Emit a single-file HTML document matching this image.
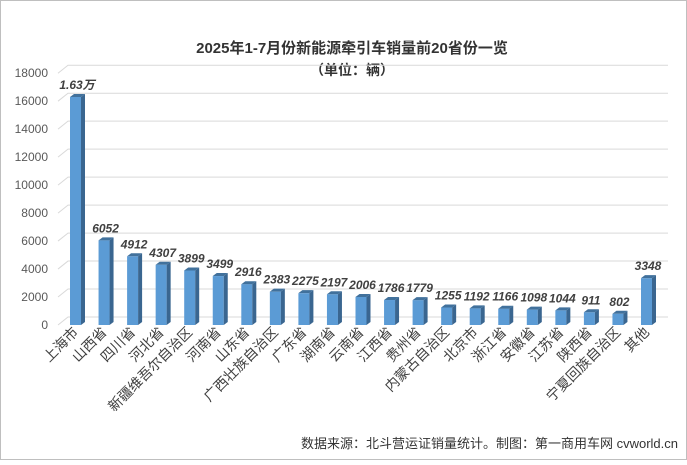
<!DOCTYPE html>
<html><head><meta charset="utf-8"><style>
html,body{margin:0;padding:0;background:#fff}
svg text{font-family:"Liberation Sans","Noto Sans CJK SC",sans-serif}
</style></head><body>
<svg width="687" height="460" xmlns="http://www.w3.org/2000/svg">
<rect x="0.5" y="0.5" width="686" height="459" fill="#fff" stroke="#bfbfbf"/>
<text x="352" y="53" text-anchor="middle" font-size="15" font-weight="bold" fill="#333">2025年1-7月份新能源牵引车销量前20省份一览</text>
<text x="352" y="75" text-anchor="middle" font-size="14" font-weight="bold" fill="#333">（单位：辆）</text>
<g id="grid"></g><g id="bars"></g><g id="labels"></g>
<text x="678" y="448" text-anchor="end" font-size="13" fill="#333">数据来源：北斗营运证销量统计。制图：第一商用车网 cvworld.cn</text>
</svg>
<script>
const categories=["上海市","山西省","四川省","河北省","新疆维吾尔自治区","河南省","山东省","广西壮族自治区","广东省","湖南省","云南省","江西省","贵州省","内蒙古自治区","北京市","浙江省","安徽省","江苏省","陕西省","宁夏回族自治区","其他"];
const values=[16300,6052,4912,4307,3899,3499,2916,2383,2275,2197,2006,1786,1779,1255,1192,1166,1098,1044,911,802,3348];
const valueLabels=["1.63万","6052","4912","4307","3899","3499","2916","2383","2275","2197","2006","1786","1779","1255","1192","1166","1098","1044","911","802","3348"];
const ticks=[0,2000,4000,6000,8000,10000,12000,14000,16000,18000];
const NS="http://www.w3.org/2000/svg";
const y0=325,k=228/16300,x0=70,step=28.55,bw=11,d=4;
const Y=v=>y0-v*k, X=i=>x0+i*step;
function mk(t,a,p){const e=document.createElementNS(NS,t);for(const q in a)e.setAttribute(q,a[q]);p.appendChild(e);return e;}
const g=document.getElementById('grid'),b=document.getElementById('bars'),l=document.getElementById('labels');
ticks.forEach(t=>{const y=Y(t);
const ln=mk('polyline',{points:`58,${y} 68,${y-8} 668,${y-8}`,fill:'none',stroke:'#d9d9d9'},g);


const tx=mk('text',{x:48,y:y+4,'text-anchor':'end','font-size':12,fill:'#595959'},g);tx.textContent=t;

});
values.forEach((v,i)=>{const x=X(i),y=Y(v),h=y0-y;
const grp=mk('g',{},b);


mk('rect',{x:x,y:y,width:bw,height:h,fill:'#5b9bd5'},grp);
mk('polygon',{points:`${x+bw},${y} ${x+bw+d},${y-3} ${x+bw+d},${y0-3} ${x+bw},${y0}`,fill:'#3a6690'},grp);
mk('polygon',{points:`${x},${y} ${x+d},${y-3} ${x+bw+d},${y-3} ${x+bw},${y}`,fill:'#41719c'},grp);
const vl=mk('text',{x:x+7,y:y-8,'text-anchor':'middle','font-size':12,'font-weight':'bold','font-style':'italic',fill:'#404040'},l);vl.textContent=valueLabels[i];


const cx=x+9,cy=333;
const cl=mk('text',{x:cx,y:cy,'text-anchor':'end','font-size':14,fill:'#404040',transform:`rotate(-45 ${cx} ${cy})`},l);cl.textContent=categories[i];

});
</script>
</body></html>
